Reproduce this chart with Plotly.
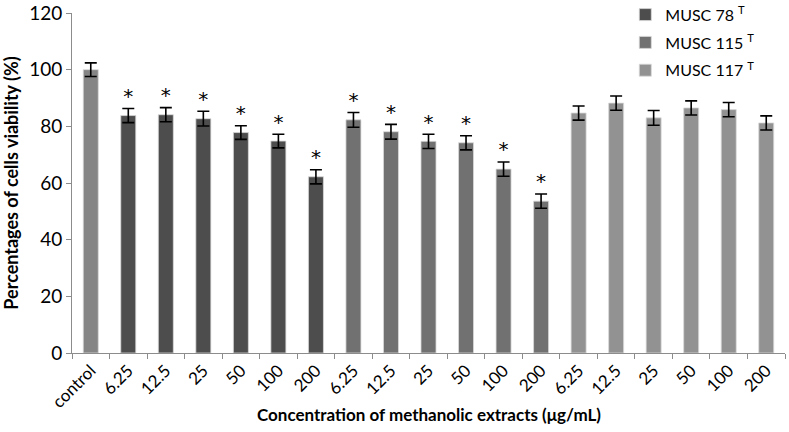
import plotly.graph_objects as go

# tick labels for the 19 bars
labels = ["control",
          "6.25", "12.5", "25", "50", "100", "200",
          "6.25", "12.5", "25", "50", "100", "200",
          "6.25", "12.5", "25", "50", "100", "200"]

control_val = [100.0]
control_err = [2.4]

musc78_val = [83.8, 84.1, 82.7, 77.8, 74.8, 62.2]
musc78_err = [2.5, 2.5, 2.6, 2.4, 2.4, 2.5]

musc115_val = [82.3, 78.1, 74.7, 74.2, 64.9, 53.6]
musc115_err = [2.6, 2.6, 2.5, 2.5, 2.5, 2.5]

musc117_val = [84.7, 88.2, 83.0, 86.5, 85.9, 81.2]
musc117_err = [2.5, 2.5, 2.6, 2.5, 2.5, 2.5]

# which bars carry a significance star
musc78_star = [True] * 6
musc115_star = [True] * 6

FONT = "Lato, 'Open Sans', sans-serif"

x_ctrl = [0]
x78 = list(range(1, 7))
x115 = list(range(7, 13))
x117 = list(range(13, 19))


def bar(x, y, err, color, name, legend=True):
    return go.Bar(
        x=x, y=y, name=name, showlegend=legend,
        marker=dict(color=color, line=dict(color="#d9d9d9", width=0.8)),
        width=0.4,
        error_y=dict(type="data", array=err, color="black",
                     thickness=1.6, width=6),
    )


fig = go.Figure()
fig.add_trace(bar(x_ctrl, control_val, control_err, "#858585", "control", legend=False))
fig.add_trace(bar(x78, musc78_val, musc78_err, "#4d4d4d", "MUSC 78 <sup>T</sup>"))
fig.add_trace(bar(x115, musc115_val, musc115_err, "#717171", "MUSC 115 <sup>T</sup>"))
fig.add_trace(bar(x117, musc117_val, musc117_err, "#929292", "MUSC 117 <sup>T</sup>"))

# asterisks above significant bars
sx, sy = [], []
for xs, vals, errs, stars in [(x78, musc78_val, musc78_err, musc78_star),
                              (x115, musc115_val, musc115_err, musc115_star)]:
    for xi, v, e, s in zip(xs, vals, errs, stars):
        if s:
            sx.append(xi)
            sy.append(v + e + 3.8)
fig.add_trace(go.Scatter(
    x=sx, y=sy, mode="text", text=["*"] * len(sx), showlegend=False,
    textfont=dict(family="DejaVu Sans", size=20, color="black"),
    hoverinfo="skip",
))

# invisible trace on the second x axis so the boundary ticks show
fig.add_trace(go.Scatter(x=[-0.5], y=[0], xaxis="x2", mode="markers",
                         marker=dict(opacity=0), showlegend=False, hoverinfo="skip"))

fig.update_layout(
    width=789, height=432,
    margin=dict(l=72, r=4, t=13, b=79, autoexpand=False),
    plot_bgcolor="white", paper_bgcolor="white",
    font=dict(family=FONT, color="black"),
    bargap=0.6,
    xaxis=dict(
        range=[-0.5, 18.5], automargin=False,
        tickmode="array", tickvals=list(range(19)), ticktext=labels,
        tickangle=-45, ticks="",
        tickfont=dict(size=17),
        showline=True, linecolor="#8c8c8c", linewidth=1,
        showgrid=False, zeroline=False,
    ),
    xaxis2=dict(
        overlaying="x", range=[-0.5, 18.5], side="bottom",
        tickmode="array", tickvals=[i - 0.5 for i in range(20)],
        showticklabels=False, ticks="outside", ticklen=5,
        tickcolor="#8c8c8c", showgrid=False, zeroline=False, showline=False,
    ),
    yaxis=dict(
        range=[0, 120], dtick=20, automargin=False,
        ticks="outside", ticklen=5, tickcolor="#8c8c8c",
        tickfont=dict(size=19), ticklabeloverflow="allow",
        showline=True, linecolor="#8c8c8c", linewidth=1,
        showgrid=False, zeroline=False,
        title=dict(text="<b>Percentages of cells viability (%)</b>",
                   font=dict(size=18), standoff=9),
    ),
    legend=dict(
        x=0.776, y=1.045, xanchor="left", yanchor="top",
        font=dict(size=16), tracegroupgap=4,
        bgcolor="rgba(0,0,0,0)", itemwidth=30,
    ),
    annotations=[dict(
        text="<b>Concentration of methanolic extracts (μg/mL)</b>",
        xref="paper", yref="paper", x=0.5, y=-0.182,
        xanchor="center", yanchor="middle", showarrow=False,
        font=dict(size=17),
    )],
)
for i, tr in enumerate(fig.data):
    tr.legendgroup = f"g{i}"

# drop the default page margin so the figure sits at the window's corner
fig.write_html("out.html", config={"displayModeBar": False},
               post_script="document.body.style.margin = '0';")
